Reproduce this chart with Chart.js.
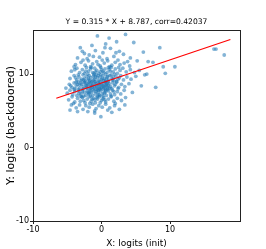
<!DOCTYPE html>
<html>
<head>
<meta charset="utf-8">
<script src="https://cdn.jsdelivr.net/npm/chart.js@4/dist/chart.umd.min.js"></script>
<style>
  html, body { margin: 0; padding: 0; background: #fff; }
  #wrap { width: 266px; height: 249px; }
</style>
</head>
<body>
<div id="wrap"><canvas id="chart" width="266" height="249"></canvas></div>
<script>
// scatter points, as [x, y] pairs (x: logits init, y: logits backdoored)
const points = [
  // sparse top + outliers
  [-0.6,15.2],[1.1,14.9],[3.5,15.4],[4.7,14.3],[0.6,14.1],[2.2,14.4],[-3.1,13.6],[-1.4,13.9],
  [16.4,13.4],[16.7,13.4],[17.9,12.6],[8.5,13.6],[10.7,11.0],[9.3,10.1],[9.0,11.0],[7.9,8.2],
  [5.8,8.4],[6.1,13.0],[6.8,11.7],[7.5,11.6],[6.3,9.9],[6.6,10.0],[-4.4,10.4],[-5.2,8.1],
  // 12 - 14
  [-2.5,12.8],[-1.8,12.6],[-0.9,13.2],[0.2,12.9],[1.3,13.5],[1.8,12.4],[2.6,13.1],[3.2,12.7],
  [-3.5,12.2],[-2.1,12.1],[-0.3,12.3],[0.8,12.1],[2.1,12.9],[-1.2,12.4],[0.5,13.6],[4.2,12.2],[-2.8,13.1],
  // 11 - 12
  [-3.8,11.3],[-3.0,11.6],[-2.4,11.2],[-1.9,11.8],[-1.3,11.4],[-0.7,11.7],[-0.2,11.1],[0.4,11.5],
  [0.9,11.8],[1.5,11.2],[2.0,11.6],[2.7,11.3],[3.3,11.5],[4.1,11.1],[5.2,11.8],[-4.0,11.0],
  [-1.6,11.0],[0.1,11.9],[1.2,11.0],[2.4,11.9],[3.8,11.7],[-2.7,11.9],[-0.5,11.3],
  // 10 - 11
  [-3.6,10.8],[-3.2,10.2],[-2.8,10.6],[-2.5,10.1],[-2.2,10.9],[-1.9,10.4],[-1.6,10.7],[-1.3,10.2],
  [-1.0,10.8],[-0.7,10.5],[-0.4,10.1],[-0.1,10.9],[0.2,10.4],[0.5,10.7],[0.8,10.2],[1.1,10.6],
  [1.4,10.9],[1.7,10.3],[2.0,10.7],[2.3,10.1],[2.7,10.5],[3.1,10.8],[3.6,10.3],[4.2,10.6],
  [4.8,10.2],[5.5,10.5],[-3.9,10.6],[-2.0,10.0],[-0.9,10.3],[0.0,10.6],[0.6,10.0],[1.3,10.4],
  [2.5,10.9],[-1.5,10.9],[-0.2,10.3],[1.9,10.0],
  // 9 - 10
  [-4.6,9.4],[-4.0,9.8],[-3.6,9.2],[-3.3,9.6],[-3.0,9.1],[-2.7,9.9],[-2.5,9.4],[-2.2,9.7],
  [-2.0,9.2],[-1.8,9.8],[-1.6,9.5],[-1.4,9.0],[-1.2,9.7],[-1.0,9.3],[-0.8,9.9],[-0.6,9.5],
  [-0.4,9.1],[-0.2,9.6],[0.0,9.2],[0.2,9.8],[0.4,9.4],[0.6,9.0],[0.8,9.6],[1.0,9.2],
  [1.2,9.8],[1.5,9.4],[1.8,9.1],[2.1,9.7],[2.4,9.3],[2.8,9.8],[3.2,9.2],[3.7,9.6],
  [4.3,9.3],[5.0,9.7],[-3.8,9.5],[-2.9,9.3],[-1.7,9.1],[-0.9,9.6],[-0.1,9.9],[0.7,9.3],
  [1.4,9.9],[2.2,9.0],[-2.4,9.0],[-1.1,9.9],[0.3,9.1],[1.7,9.6],[-3.4,9.9],[2.6,9.5],[-0.5,9.8],
  // 8 - 9
  [-4.7,8.6],[-4.3,8.2],[-4.0,8.8],[-3.7,8.4],[-3.4,8.9],[-3.2,8.1],[-2.9,8.6],[-2.7,8.3],
  [-2.5,8.9],[-2.3,8.5],[-2.1,8.1],[-1.9,8.7],[-1.7,8.3],[-1.5,8.9],[-1.3,8.5],[-1.1,8.1],
  [-0.9,8.7],[-0.7,8.3],[-0.5,8.9],[-0.3,8.5],[-0.1,8.1],[0.1,8.7],[0.3,8.3],[0.5,8.9],
  [0.7,8.5],[0.9,8.1],[1.1,8.7],[1.3,8.3],[1.6,8.8],[1.9,8.4],[2.2,8.9],[2.5,8.2],
  [2.9,8.6],[3.4,8.3],[4.0,8.7],[-3.9,8.0],[-2.6,8.0],[-1.4,8.2],[-0.6,8.0],[0.4,8.1],
  [1.5,8.0],[-3.0,8.8],[-1.8,8.9],[-0.8,8.5],[0.2,8.4],[1.0,8.5],[-2.2,8.4],[-1.0,8.9],
  [0.0,8.6],[0.6,8.7],[-4.5,8.4],[-2.0,8.6],[-1.6,8.1],[-0.4,8.4],[0.8,8.3],[2.0,8.6],[-3.5,8.6],
  // 7 - 8
  [-5.0,7.4],[-4.6,7.8],[-4.2,7.2],[-3.9,7.6],[-3.6,7.1],[-3.3,7.7],[-3.0,7.3],[-2.8,7.9],
  [-2.5,7.5],[-2.3,7.1],[-2.1,7.7],[-1.9,7.3],[-1.7,7.9],[-1.5,7.5],[-1.3,7.1],[-1.1,7.7],
  [-0.9,7.3],[-0.7,7.9],[-0.5,7.5],[-0.3,7.1],[-0.1,7.7],[0.1,7.3],[0.3,7.9],[0.5,7.5],
  [0.7,7.1],[1.0,7.7],[1.3,7.3],[1.6,7.8],[1.9,7.2],[2.3,7.6],[2.8,7.3],[3.3,7.8],
  [4.5,7.5],[-3.4,7.9],[-2.6,7.0],[-1.6,7.0],[-0.8,7.6],[0.2,7.0],[0.9,7.9],[-2.0,7.5],
  [-1.2,7.9],[-0.4,7.2],[0.6,7.7],[-4.0,7.9],[-3.1,7.0],[-0.2,7.9],[1.4,7.0],
  // 6 - 7
  [-4.8,6.5],[-4.3,6.9],[-3.9,6.2],[-3.5,6.7],[-3.1,6.3],[-2.8,6.8],[-2.4,6.1],[-2.1,6.6],
  [-1.8,6.9],[-1.5,6.3],[-1.2,6.7],[-0.9,6.1],[-0.6,6.6],[-0.3,6.9],[0.0,6.4],[0.3,6.8],
  [0.6,6.2],[1.0,6.6],[1.4,6.9],[1.8,6.3],[2.3,6.7],[2.9,6.4],[3.5,6.8],[-2.6,6.4],
  [-1.0,6.5],[0.5,6.5],[-4.1,6.0],[-1.7,6.0],[-0.2,6.1],[2.0,6.0],
  // 4 - 6
  [-4.4,5.8],[-3.7,5.4],[-3.2,5.8],[-2.7,5.2],[-2.3,5.7],[-1.8,5.5],[-1.3,5.9],[-0.8,5.3],
  [-0.4,5.7],[0.1,5.5],[0.6,5.9],[1.2,5.4],[1.9,5.7],[2.6,5.2],[3.4,5.8],[-4.6,5.1],
  [-1.0,5.0],[0.9,5.1],[-1.0,4.7],[-0.1,4.2],[-2.0,4.9],[1.5,4.8],[-3.5,4.9],
  // dense core, second pass
  [-2.4,8.8],[-1.9,9.4],[-1.4,8.6],[-0.9,9.0],[-0.4,8.7],[0.1,9.4],[0.5,8.4],[1.0,9.0],
  [-2.8,7.6],[-2.2,8.2],[-1.6,7.7],[-1.0,8.3],[-0.5,7.8],[0.0,8.2],[0.6,7.9],[1.2,8.1],
  [-3.2,8.5],[-2.6,9.2],[-1.2,9.2],[-0.2,9.0],[0.8,8.8],[1.6,9.2],[-1.8,7.4],[-0.6,7.0],
  [0.4,7.4],[-2.9,6.9],[-1.4,6.6],[0.2,6.6],[-2.3,10.4],[-1.1,10.1],[0.3,10.2],[1.0,10.9],
  [-3.7,8.9],[-3.3,7.4],[-0.7,6.8],[1.8,7.6],[2.4,8.0],[-1.5,8.4],[-0.3,8.0],[0.9,9.7]
];

// fitted line end points (Y = 0.315 * X + 8.787)
const lineXs = [-6.6, 18.8];
const lineYs = [6.71, 14.71];

const xTicks = [-10, 0, 10];
const yTicks = [-10, 0, 10];

const titleText = 'Y = 0.315 * X + 8.787, corr=0.42037';
const font = 'DejaVu Sans';

// frame round the plot and the title centred over it
const framePlugin = {
  id: 'frame',
  afterDraw(chart) {
    const { ctx, chartArea: a } = chart;
    ctx.save();
    ctx.strokeStyle = '#222';
    ctx.lineWidth = 1;
    ctx.strokeRect(Math.round(a.left) + 0.5, Math.round(a.top) + 0.5,
      Math.round(a.right - a.left), Math.round(a.bottom - a.top));
    ctx.fillStyle = '#000';
    ctx.font = '7.6px "' + font + '"';
    ctx.textAlign = 'center';
    ctx.textBaseline = 'middle';
    ctx.fillText(titleText, (a.left + a.right) / 2, 22.5);
    ctx.restore();
  }
};

new Chart(document.getElementById('chart'), {
  type: 'scatter',
  data: {
    datasets: [
      {
        data: points.map(p => ({ x: p[0], y: p[1] })),
        backgroundColor: 'rgba(31,119,180,0.55)',
        borderWidth: 0,
        pointRadius: 1.9,
        order: 2
      },
      {
        type: 'line',
        data: lineXs.map((x, i) => ({ x, y: lineYs[i] })),
        borderColor: '#ff0000',
        borderWidth: 1.2,
        pointRadius: 0,
        fill: false,
        order: 1
      }
    ]
  },
  options: {
    responsive: false,
    animation: false,
    layout: { padding: { left: 0, right: 26, top: 30, bottom: 0 } },
    plugins: {
      legend: { display: false },
      tooltip: { enabled: false },
      title: { display: false }
    },
    scales: {
      x: {
        type: 'linear',
        min: -10,
        max: 20.2,
        afterBuildTicks: s => { s.ticks = xTicks.map(v => ({ value: v })); },
        afterFit: s => { s.height = 28; },
        grid: { drawOnChartArea: false, tickLength: 3, color: '#222' },
        border: { display: false },
        ticks: { color: '#000', font: { family: font, size: 8 }, padding: 1, maxRotation: 0 },
        title: { display: true, text: 'X: logits (init)', color: '#000', font: { family: font, size: 9 }, padding: 0 }
      },
      y: {
        type: 'linear',
        min: -10,
        max: 16,
        afterBuildTicks: s => { s.ticks = yTicks.map(v => ({ value: v })); },
        afterFit: s => { s.width = 33; },
        grid: { drawOnChartArea: false, tickLength: 3, color: '#222' },
        border: { display: false },
        ticks: { color: '#000', font: { family: font, size: 8 }, padding: 1 },
        title: { display: true, text: 'Y: logits (backdoored)', color: '#000', font: { family: font, size: 11 }, padding: { top: 5, bottom: 0 } }
      }
    }
  },
  plugins: [framePlugin]
});
</script>
</body>
</html>
